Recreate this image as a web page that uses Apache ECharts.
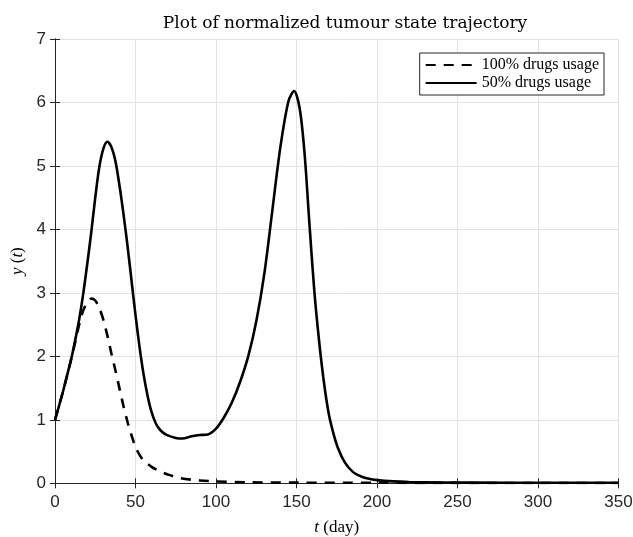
<!DOCTYPE html>
<html>
<head>
<meta charset="utf-8">
<script src="https://cdn.jsdelivr.net/npm/echarts@6/dist/echarts.min.js"></script>
<style>
  html, body { margin: 0; padding: 0; background: #fff; }
  #chart1 { width: 633px; height: 537px; }
</style>
</head>
<body>
<div id="chart1"></div>
<script>
// 50% drugs usage (solid)
const tHalf = [0, 2.5, 5, 7.5, 10, 12.5, 15, 17.5, 20, 22.5, 25, 27.5, 30, 32.5, 35, 37.5, 40, 42.5, 45, 47.5, 50, 52.5, 55, 57.5, 60, 62.5, 65, 67.5, 70, 75, 79, 85, 90, 95, 100, 105, 110, 115, 120, 125, 130, 135, 140, 145, 148.5, 152, 155, 158, 161, 164, 167, 170, 173, 176, 180, 185, 190, 195, 200, 210, 220, 240, 260, 300, 350]
const yHalf = [1.0, 1.22, 1.45, 1.7, 1.95, 2.25, 2.58, 2.98, 3.45, 3.95, 4.5, 4.98, 5.27, 5.38, 5.3, 5.08, 4.7, 4.25, 3.75, 3.2, 2.65, 2.15, 1.72, 1.38, 1.12, 0.95, 0.85, 0.79, 0.755, 0.715, 0.705, 0.74, 0.76, 0.77, 0.86, 1.04, 1.28, 1.6, 2.0, 2.55, 3.3, 4.3, 5.3, 6.02, 6.18, 5.9, 5.2, 4.1, 3.05, 2.25, 1.6, 1.1, 0.78, 0.54, 0.33, 0.18, 0.11, 0.07, 0.05, 0.03, 0.02, 0.012, 0.01, 0.008, 0.008]

// 100% drugs usage (dashed)
const tFull = [0, 5, 10, 12.5, 15, 17.5, 20, 22.5, 25, 27.5, 30, 32.5, 35, 37.5, 40, 42.5, 45, 47.5, 50, 52.5, 55, 60, 65, 70, 78, 90, 100, 120, 150, 200, 250, 300, 350]
const yFull = [1.0, 1.45, 1.95, 2.22, 2.5, 2.72, 2.85, 2.91, 2.88, 2.76, 2.58, 2.33, 2.05, 1.78, 1.5, 1.22, 0.97, 0.76, 0.57, 0.45, 0.36, 0.26, 0.19, 0.14, 0.08, 0.045, 0.03, 0.015, 0.01, 0.008, 0.006, 0.005, 0.005]

const xTicks = { min: 0, max: 350, interval: 50 }
const yTicks = { min: 0, max: 7, interval: 1 }

const axisColor = '#262626'
const gridColor = '#e3e3e3'
const serif = '"Liberation Serif", "DejaVu Serif", serif'
const titleSerif = '"DejaVu Serif", "Liberation Serif", serif'
const sans = '"Liberation Sans", Arial, sans-serif'

const pairs = (xs, ys) => xs.map((x, i) => [x, ys[i]])

const getOptionChart1 = () => {
  const hidden = { show: false }
  const nameStyle = {
    fontFamily: serif, fontSize: 17, color: '#000',
    rich: { i: { fontFamily: serif, fontSize: 17, fontStyle: 'italic', color: '#000' } }
  }
  return {
    animation: false,
    backgroundColor: '#fff',
    title: {
      text: 'Plot of normalized tumour state trajectory',
      left: 340,
      textAlign: 'center',
      top: 10,
      textStyle: { fontFamily: titleSerif, fontSize: 17, fontWeight: 'normal', color: '#000' }
    },
    legend: {
      data: ['100% drugs usage', '50% drugs usage'],
      orient: 'vertical',
      right: 29,
      top: 53,
      itemWidth: 51,
      itemHeight: 12,
      itemGap: 2,
      padding: [4, 5, 4, 5],
      borderColor: axisColor,
      borderWidth: 1,
      backgroundColor: '#fff',
      itemStyle: { opacity: 0 },
      textStyle: { fontFamily: serif, fontSize: 16, color: '#000' }
    },
    grid: {
      left: 55,
      right: 14.5,
      top: 39,
      bottom: 53.7,
      containLabel: false,
      outerBoundsMode: 'none'
    },
    xAxis: [
      {
        type: 'value',
        min: xTicks.min,
        max: xTicks.max,
        interval: xTicks.interval,
        name: '{i|t} (day)',
        nameLocation: 'middle',
        nameGap: 36,
        nameTextStyle: nameStyle,
        axisLine: { show: true, lineStyle: { color: axisColor, width: 1 } },
        axisTick: { show: true, inside: true, length: 5, lineStyle: { color: axisColor } },
        axisLabel: { margin: 11, fontFamily: sans, fontSize: 17, color: axisColor },
        splitLine: { show: true, lineStyle: { color: gridColor, width: 1 } }
      },
      {
        type: 'value',
        position: 'top',
        min: xTicks.min,
        max: xTicks.max,
        interval: xTicks.interval,
        axisLine: { show: true, lineStyle: { color: axisColor, width: 1 } },
        axisTick: { show: true, inside: true, length: 5, lineStyle: { color: axisColor } },
        axisLabel: hidden,
        splitLine: hidden
      }
    ],
    yAxis: [
      {
        type: 'value',
        min: yTicks.min,
        max: yTicks.max,
        interval: yTicks.interval,
        name: '{i|y} ({i|t})',
        nameLocation: 'middle',
        nameRotate: 90,
        nameGap: 21,
        nameTextStyle: nameStyle,
        axisLine: { show: true, lineStyle: { color: axisColor, width: 1 } },
        axisTick: { show: true, inside: true, length: 5, lineStyle: { color: axisColor } },
        axisLabel: { margin: 9, fontFamily: sans, fontSize: 17, color: axisColor },
        splitLine: { show: true, lineStyle: { color: gridColor, width: 1 } }
      },
      {
        type: 'value',
        position: 'right',
        min: yTicks.min,
        max: yTicks.max,
        interval: yTicks.interval,
        axisLine: { show: true, lineStyle: { color: axisColor, width: 1 } },
        axisTick: { show: true, inside: true, length: 5, lineStyle: { color: axisColor } },
        axisLabel: hidden,
        splitLine: hidden
      }
    ],
    series: [
      {
        name: '100% drugs usage',
        type: 'line',
        data: pairs(tFull, yFull),
        smooth: 0.3,
        symbol: 'none',
        lineStyle: { color: '#000', width: 2.6, type: [10, 8] },
        itemStyle: { color: '#000' },
        z: 3
      },
      {
        name: '50% drugs usage',
        type: 'line',
        data: pairs(tHalf, yHalf),
        smooth: 0.3,
        symbol: 'none',
        lineStyle: { color: '#000', width: 2.6 },
        itemStyle: { color: '#000' },
        z: 4
      }
    ]
  }
}

const chart1 = echarts.init(document.getElementById('chart1'))
chart1.setOption(getOptionChart1())
</script>
</body>
</html>
